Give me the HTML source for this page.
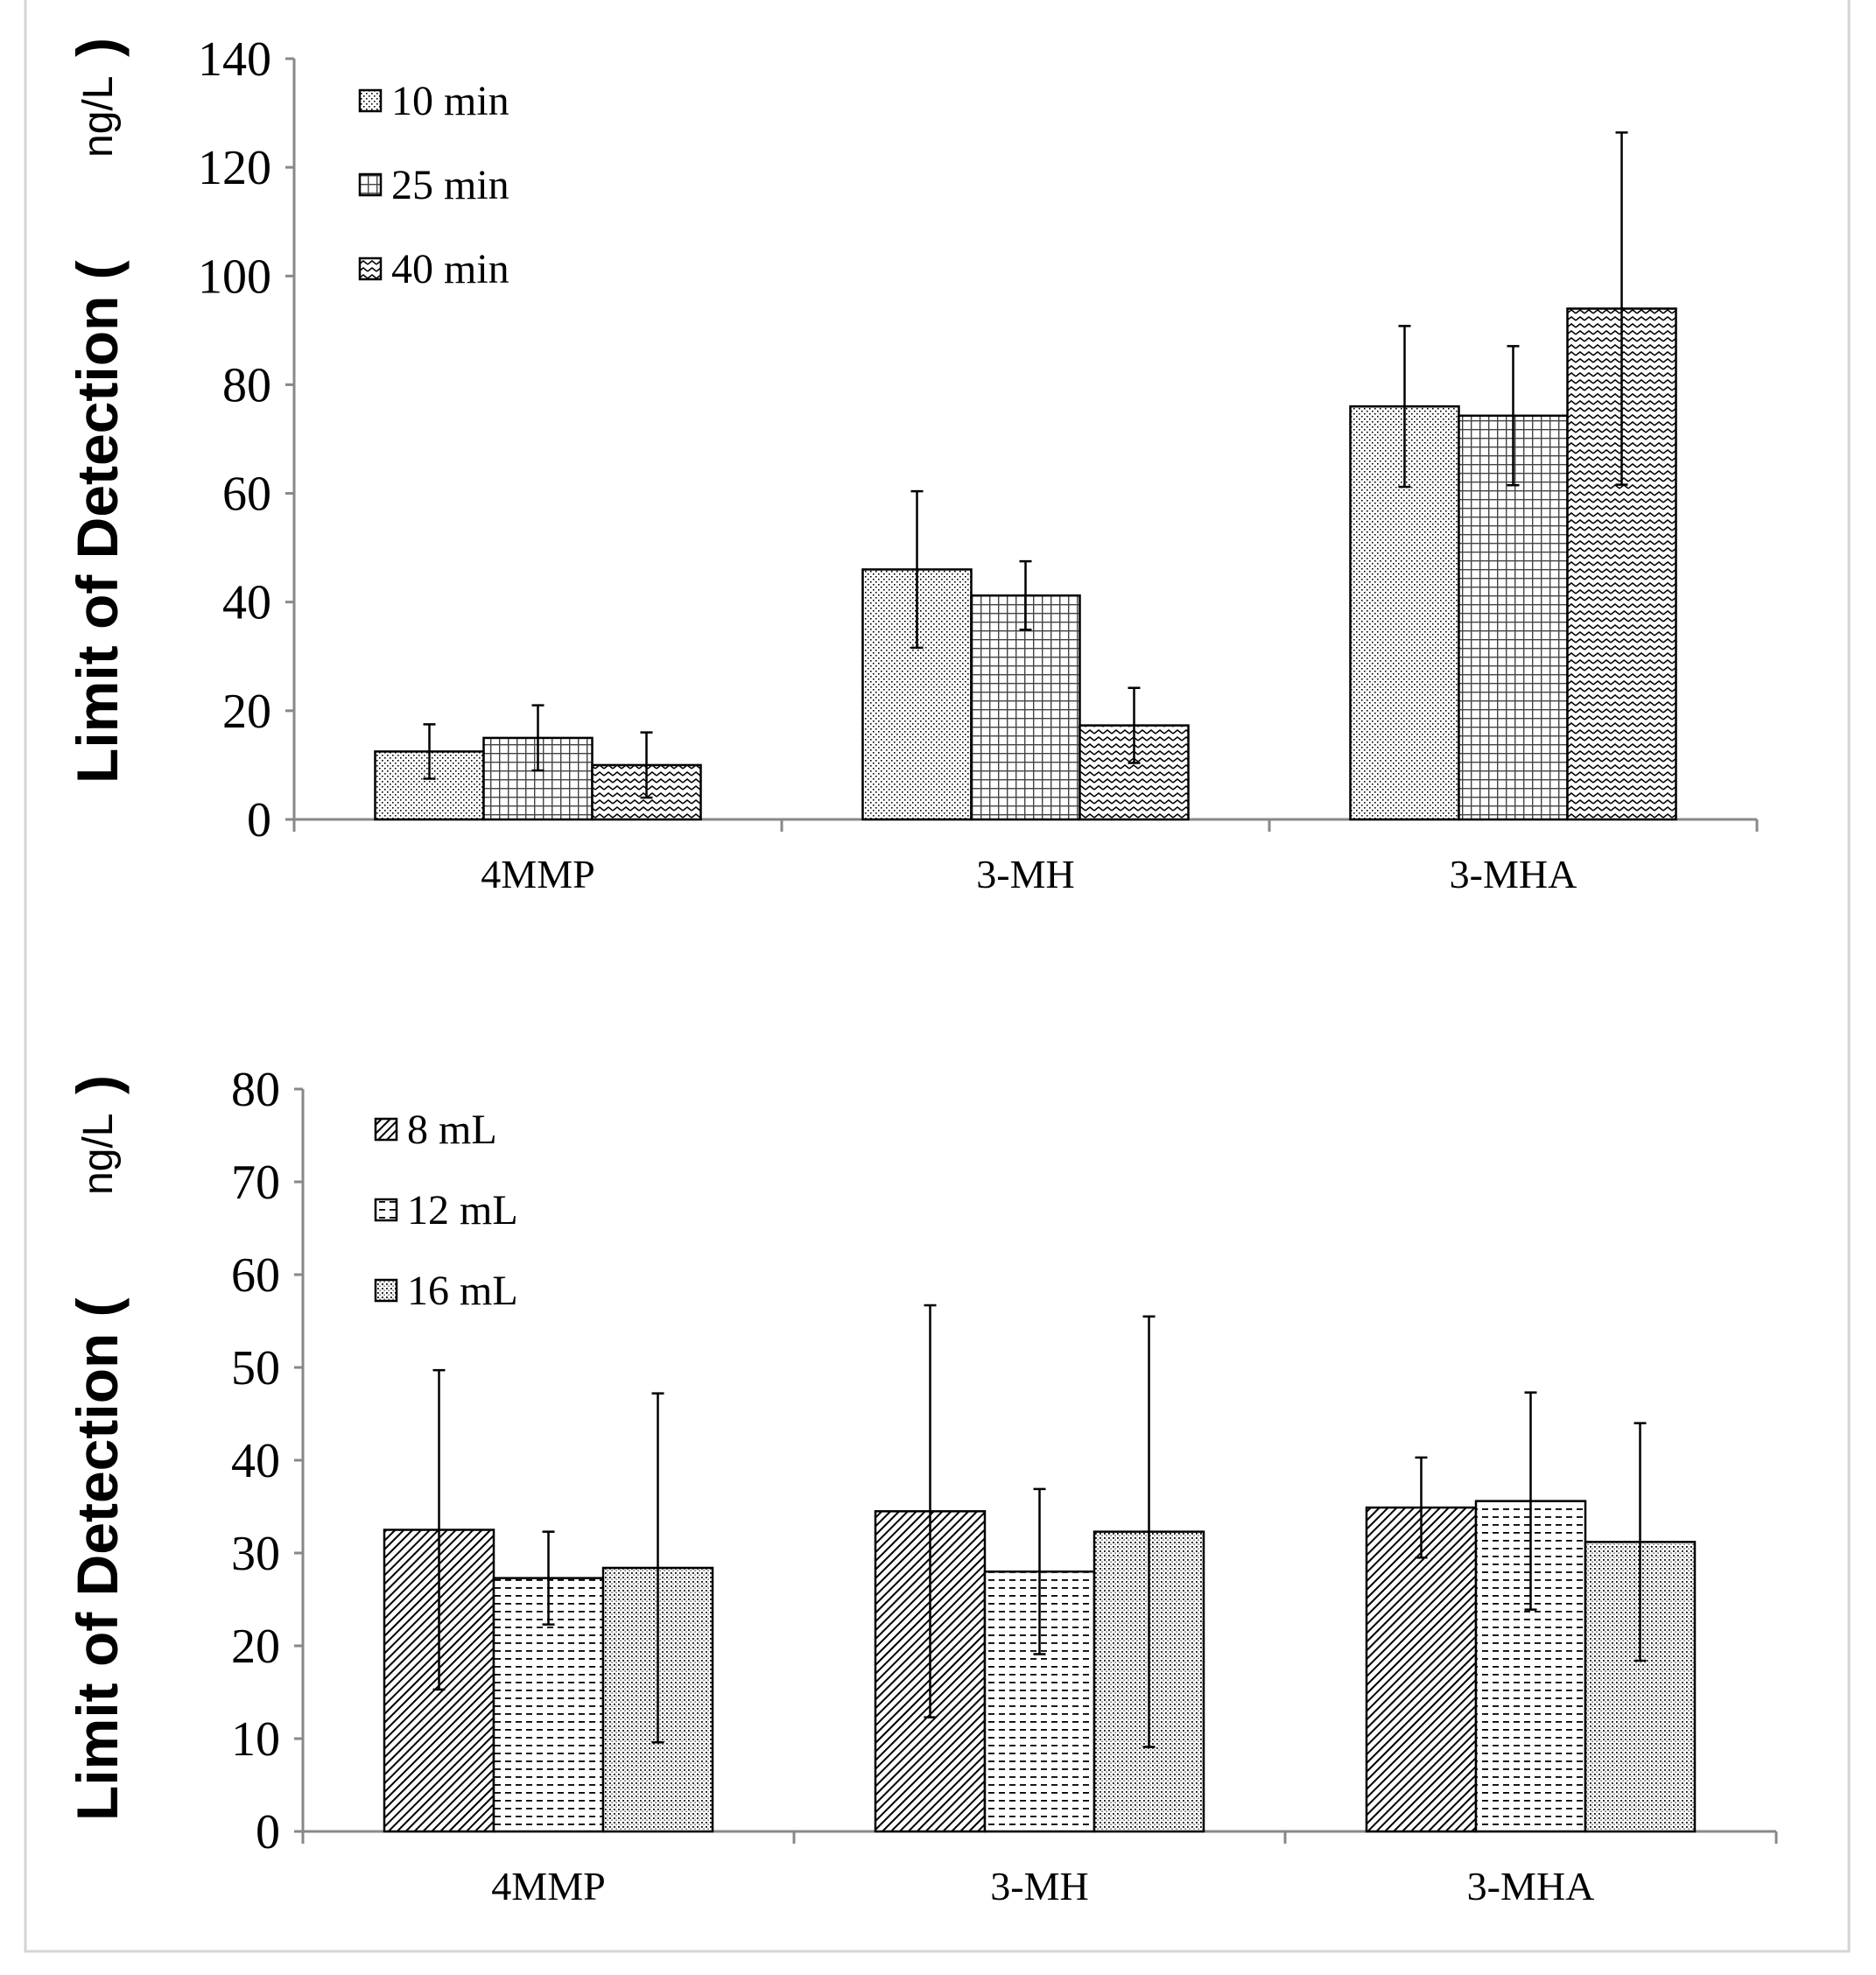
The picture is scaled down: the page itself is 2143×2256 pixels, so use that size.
<!DOCTYPE html>
<html><head><meta charset="utf-8"><style>
html,body{margin:0;padding:0;background:#fff}
svg{display:block}
.tk{font-family:"Liberation Serif",serif;font-size:56px;fill:#000}
.cat{font-family:"Liberation Serif",serif;font-size:46px;fill:#000}
.lg{font-family:"Liberation Serif",serif;font-size:48px;fill:#000}
.yt{font-family:"Liberation Sans",sans-serif;font-weight:bold;font-size:66px;fill:#000}
.yu{font-family:"Liberation Sans",sans-serif;font-size:48px;fill:#000}
</style></head><body>
<svg id="chart" width="2143" height="2256" viewBox="0 0 2143 2256" xmlns="http://www.w3.org/2000/svg">
<defs>
<pattern id="pDots" width="6" height="6" patternUnits="userSpaceOnUse"><rect width="6" height="6" fill="#fff"/><rect x="1" y="1" width="1.6" height="1.6" fill="#000"/><rect x="4" y="4" width="1.6" height="1.6" fill="#000"/></pattern>
<pattern id="pGrid" width="10" height="10" patternUnits="userSpaceOnUse"><rect width="10" height="10" fill="#fff"/><rect x="0" y="0" width="10" height="1.4" fill="#444"/><rect x="0" y="0" width="1.4" height="10" fill="#444"/></pattern>
<pattern id="pWave" width="10" height="8" patternUnits="userSpaceOnUse"><rect width="10" height="8" fill="#fff"/><path d="M0 6 L5 2 L10 6" stroke="#000" stroke-width="1.5" fill="none"/></pattern>
<pattern id="pHatch" width="7" height="7" patternUnits="userSpaceOnUse" patternTransform="rotate(45)"><rect width="7" height="7" fill="#fff"/><rect x="0" y="0" width="2" height="7" fill="#000"/></pattern>
<pattern id="pDash" width="12" height="9" patternUnits="userSpaceOnUse"><rect width="12" height="9" fill="#fff"/><rect x="1" y="4" width="7" height="1.8" fill="#000"/></pattern>
<pattern id="pDots2" width="5" height="5" patternUnits="userSpaceOnUse"><rect width="5" height="5" fill="#fff"/><rect x="1" y="1" width="1.8" height="1.8" fill="#000"/><rect x="3.5" y="3.5" width="1.2" height="1.2" fill="#000"/></pattern>
</defs>
<rect x="29" y="-5" width="2083" height="2234" fill="none" stroke="#d4d4d4" stroke-width="3"/>
<g id="g1"></g><g id="g2"></g>
</svg>
<script>
const categories = ["4MMP","3-MH","3-MHA"];
const seriesA = ["10 min","25 min","40 min"];
const valuesA = [[12.5,46,76],[15,41.2,74.3],[10,17.3,94]];
const errorsA = [[5,14.4,14.8],[6,6.3,12.8],[6,6.9,32.4]];
const ticksA = [0,20,40,60,80,100,120,140];
const seriesB = ["8 mL","12 mL","16 mL"];
const valuesB = [[32.5,34.5,34.9],[27.3,28,35.6],[28.4,32.3,31.2]];
const errorsB = [[17.2,22.2,5.4],[5,8.9,11.7],[18.8,23.2,12.8]];
const ticksB = [0,10,20,30,40,50,60,70,80];

const NS="http://www.w3.org/2000/svg";
function mk(parent,tag,attrs,text){const e=document.createElementNS(NS,tag);for(const k in attrs)e.setAttribute(k,attrs[k]);if(text!==undefined)e.textContent=text;parent.appendChild(e);return e;}

function drawChart(g,cfg){
  const yS=v=>cfg.y0-(v-cfg.min)/(cfg.max-cfg.min)*(cfg.y0-cfg.yTop);
  const groupW=(cfg.xEnd-cfg.x0)/categories.length;
  const barW=cfg.barW;
  let a=mk(g,'line',{x1:cfg.x0,y1:cfg.yTop,x2:cfg.x0,y2:cfg.y0,stroke:'#888','stroke-width':3});
  
  a=mk(g,'line',{x1:cfg.x0,y1:cfg.y0,x2:cfg.xEnd,y2:cfg.y0,stroke:'#888','stroke-width':3});
  
  cfg.ticks.forEach(t=>{
    const y=yS(t);
    const l=mk(g,'line',{x1:cfg.x0-10,y1:y,x2:cfg.x0,y2:y,stroke:'#888','stroke-width':3});
    
    const tx=mk(g,'text',{x:cfg.x0-26,y:y+19,'text-anchor':'end',class:'tk'},String(t));
    
  });
  for(let i=0;i<=categories.length;i++){
    const x=cfg.x0+i*groupW;
    const l=mk(g,'line',{x1:x,y1:cfg.y0,x2:x,y2:cfg.y0+14,stroke:'#888','stroke-width':3});
    
  }
  categories.forEach((c,ci)=>{
    const cx=cfg.x0+(ci+0.5)*groupW;
    const tx=mk(g,'text',{x:cx,y:cfg.y0+78,'text-anchor':'middle',class:'cat'},c);
    
    cfg.values.forEach((ser,si)=>{
      const v=ser[ci],e=cfg.errors[si][ci];
      const x=cx-1.5*barW+si*barW;
      const r=mk(g,'rect',{x:x,y:yS(v),width:barW,height:cfg.y0-yS(v),fill:'url(#'+cfg.pats[si]+')',stroke:'#000','stroke-width':2.5});
      
      
      const bx=x+barW/2;
      const el=mk(g,'path',{d:`M${bx} ${yS(v+e)}V${yS(v-e)}M${bx-7} ${yS(v+e)}H${bx+7}M${bx-7} ${yS(v-e)}H${bx+7}`,stroke:'#000','stroke-width':2.5,fill:'none'});
      
    });
  });
  cfg.series.forEach((s,si)=>{
    const y=cfg.legY+si*cfg.legGap;
    const sw=mk(g,'rect',{x:cfg.legX,y:y-12,width:24,height:24,fill:'url(#'+cfg.pats[si]+')',stroke:'#000','stroke-width':2.5});
    
    const t=mk(g,'text',{x:cfg.legX+36,y:y+16,class:'lg'},s);
    
  });
  const tg=mk(g,'g',{transform:`translate(134,${cfg.titleBottom}) rotate(-90)`});
  
  mk(tg,'text',{x:0,y:0,class:'yt'},'Limit of Detection (');
  mk(tg,'text',{x:715,y:-6,class:'yu'},'ng/L');
  mk(tg,'text',{x:830,y:0,class:'yt'},')');
}
drawChart(document.getElementById('g1'),{x0:336,xEnd:2007,y0:936,yTop:67,min:0,max:140,ticks:ticksA,values:valuesA,errors:errorsA,series:seriesA,pats:['pDots','pGrid','pWave'],barW:124,legX:411,legY:115,legGap:96,titleBottom:895});
drawChart(document.getElementById('g2'),{x0:346,xEnd:2029,y0:2092,yTop:1244,min:0,max:80,ticks:ticksB,values:valuesB,errors:errorsB,series:seriesB,pats:['pHatch','pDash','pDots2'],barW:125,legX:429,legY:1290,legGap:92,titleBottom:2080});
</script>
</body></html>
